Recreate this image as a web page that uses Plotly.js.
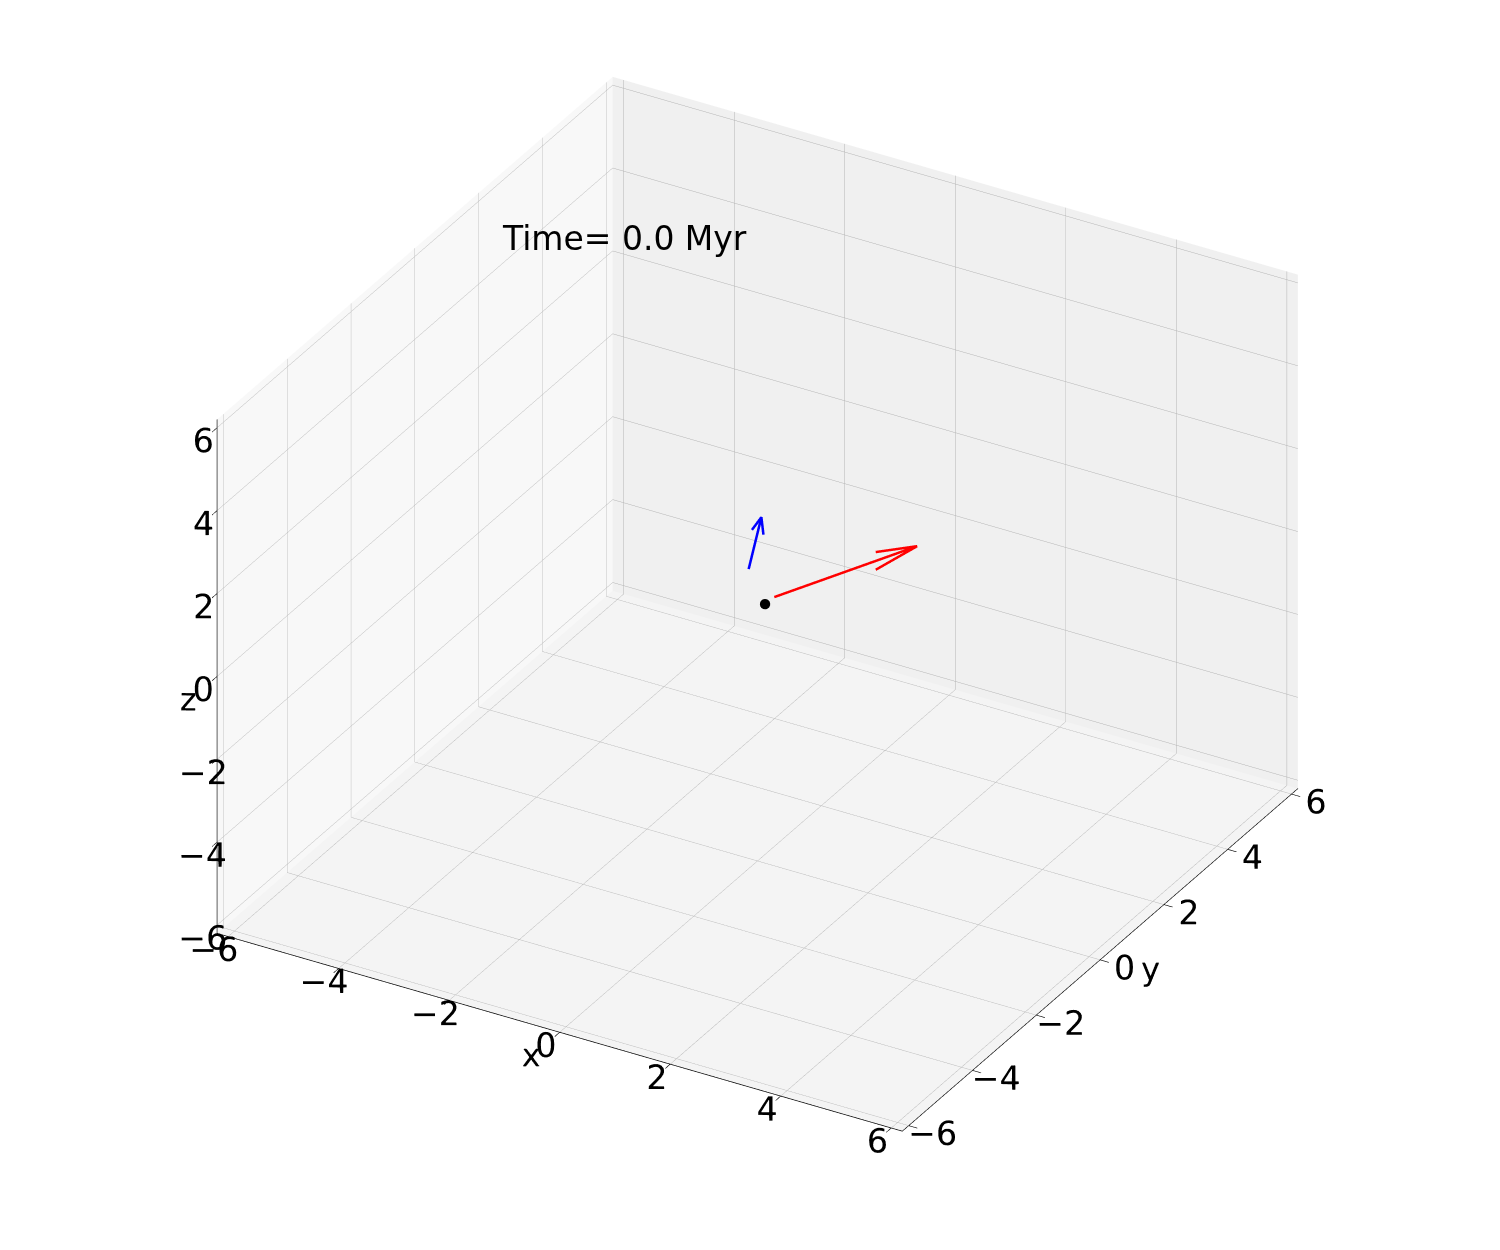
<!DOCTYPE html>
<html>
<head>
<meta charset="utf-8">
<script src="https://cdn.plot.ly/plotly-3.0.1.min.js"></script>
<style>html,body{margin:0;padding:0;background:#fff;}#chart{width:1500px;height:1250px;}</style>
</head>
<body>
<div id="chart"></div>
<script>
// ---- data ----
const starPos = [0.1, 0.06, 0.0];         // black point (x, y, z)
const redTail = [0.12, 0.32, 0.0];        // red arrow start
const redVec = [1.14, 2.5, 0.0];          // red arrow vector
const blueTail = [-0.16, 0.0, 0.78];      // blue arrow start
const blueVec = [0.23, 0.0, 1.34];        // blue arrow vector
const tickVals = [-6, -4, -2, 0, 2, 4, 6];
const tickText = ["\u22126", "\u22124", "\u22122", "0", "2", "4", "6"];
const timeLabel = "Time= 0.0 Myr";
const axisRange = [-6.2, 6.2];

function rotate(v, k, ang) {
  const c = Math.cos(ang), s = Math.sin(ang);
  const kxv = [k[1]*v[2]-k[2]*v[1], k[2]*v[0]-k[0]*v[2], k[0]*v[1]-k[1]*v[0]];
  const kdv = k[0]*v[0]+k[1]*v[1]+k[2]*v[2];
  return [0,1,2].map(i => v[i]*c + kxv[i]*s + k[i]*kdv*(1-c));
}
function arrowTrace(tail, vec, color) {
  const tip = [0,1,2].map(i => tail[i] + vec[i]);
  const n = Math.hypot(vec[0], vec[1]);
  const k = n > 1e-9 ? [vec[1]/n, -vec[0]/n, 0] : [1, 0, 0];
  const h1 = rotate(vec, k, 15*Math.PI/180), h2 = rotate(vec, k, -15*Math.PI/180);
  const p1 = [0,1,2].map(i => tip[i] - 0.3*h1[i]);
  const p2 = [0,1,2].map(i => tip[i] - 0.3*h2[i]);
  return {
    type: 'scatter3d', mode: 'lines',
    x: [tail[0], tip[0], null, p1[0], tip[0], p2[0]],
    y: [tail[1], tip[1], null, p1[1], tip[1], p2[1]],
    z: [tail[2], tip[2], null, p1[2], tip[2], p2[2]],
    connectgaps: false,
    line: {color: color, width: 5}, hoverinfo: 'skip', showlegend: false
  };
}

const traces = [
  arrowTrace(redTail, redVec, 'red'),
  arrowTrace(blueTail, blueVec, 'blue'),
  {type: 'scatter3d', mode: 'markers', x: [starPos[0]], y: [starPos[1]], z: [starPos[2]],
   marker: {color: 'black', size: 6}, showlegend: false, hoverinfo: 'skip'}
];

function ax(title, bg) {
  return {
    title: {text: title, font: {family: 'DejaVu Sans', size: 32, color: 'black'}},
    range: axisRange,
    tickvals: tickVals, ticktext: tickText, tickangle: 0,
    tickfont: {family: 'DejaVu Sans', size: 20, color: 'black'},
    showgrid: true, gridcolor: '#b4b4b4', gridwidth: 1,
    showline: true, linecolor: 'black', linewidth: 1.5,
    ticks: 'outside', ticklen: 10, tickcolor: 'black', tickwidth: 1.5,
    showbackground: true, backgroundcolor: bg,
    zeroline: false, showspikes: false
  };
}

const d = 3.0;
const k = 1.31;
const layout = {
  width: 1500, height: 1250,
  paper_bgcolor: 'white',
  margin: {l: 0, r: 0, t: 0, b: 0},
  showlegend: false,
  scene: {
    domain: {x: [0.01, 1.0], y: [0.034, 1.0]},
    xaxis: ax('x', '#f8f8f8'),
    yaxis: ax('y', '#f0f0f0'),
    zaxis: ax('z', '#f4f4f4'),
    aspectmode: 'manual',
    aspectratio: {x: 1*k, y: 1*k, z: 0.75*k},
    camera: {
      eye: {x: 0.433*d, y: -0.75*d, z: 0.5*d},
      center: {x: 0, y: 0, z: 0},
      up: {x: 0, y: 0, z: 1},
      projection: {type: 'orthographic'}
    }
  },
  annotations: [{
    text: timeLabel, xref: 'paper', yref: 'paper',
    x: 500/1500, y: 1 - 238/1250, xanchor: 'left', yanchor: 'middle',
    showarrow: false, font: {family: 'DejaVu Sans', size: 33, color: 'black'}
  }]
};

Plotly.newPlot('chart', traces, layout, {displayModeBar: false})
  .catch(e => { document.body.insertAdjacentHTML('beforeend', '<p style="font-size:30px">' + e + '</p>'); });
</script>
</body>
</html>
